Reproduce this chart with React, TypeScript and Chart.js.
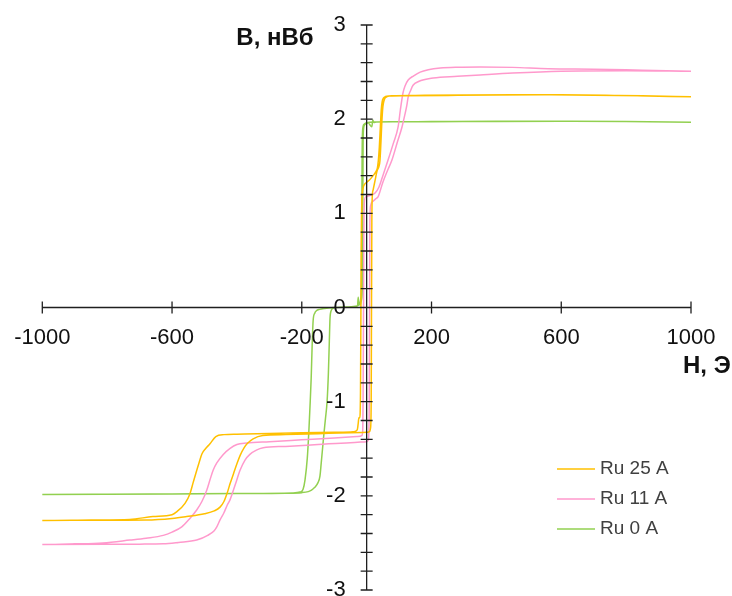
import React, { useEffect, useRef } from 'react';
import { Chart, registerables } from 'chart.js';

Chart.register(...registerables);

// ---------- data ----------
const seriesLabels = ['Ru 25 A', 'Ru 11 A', 'Ru 0 A'];
const seriesColors = ['#FFC000', '#FF99CC', '#92D050'];

// Ru 25 A : descending branch then ascending branch
const ru25H = [
  1000, 850, 700, 560, 400, 250, 120, 70, 58, 52, 48, 45, 42, 39, 36, 33, 28, 20, 10, 0, -6, -11, -15, -17, -18, -19, -20, -21, -24, -26, -29, -40, -100, -200, -300, -400, -440, -465, -483, -497, -508, -516, -524, -535, -545, -560, -586, -600, -659, -730, -850, -1000,
  -1000, -850, -680, -600, -555, -500, -470, -452, -440, -430, -421, -410, -400, -390, -378, -368, -350, -320, -250, -150, -50, 0, 8, 12, 14, 15, 16, 17, 20, 26, 32, 38, 41, 44, 47, 50, 53, 57, 63, 80, 150, 300, 450, 600, 800, 1000,
];
const ru25B = [
  2.237, 2.248, 2.255, 2.258, 2.256, 2.252, 2.248, 2.245, 2.24, 2.225, 2.19, 2.1, 1.9, 1.7, 1.56, 1.48, 1.44, 1.4, 1.36, 1.33, 1.31, 1.27, 1.1, 0.5, -0.3, -0.9, -1.12, -1.17, -1.17, -1.23, -1.3, -1.32, -1.325, -1.33, -1.337, -1.345, -1.35, -1.37, -1.447, -1.5, -1.555, -1.64, -1.73, -1.86, -1.98, -2.08, -2.17, -2.2, -2.22, -2.25, -2.256, -2.261,
  -2.261, -2.26, -2.257, -2.24, -2.22, -2.19, -2.16, -2.12, -2.06, -1.97, -1.87, -1.76, -1.66, -1.57, -1.49, -1.445, -1.395, -1.36, -1.35, -1.34, -1.33, -1.325, -1.32, -1.28, -1.0, 0, 0.9, 1.15, 1.25, 1.35, 1.45, 1.5, 1.56, 1.75, 1.98, 2.13, 2.19, 2.225, 2.24, 2.248, 2.252, 2.256, 2.258, 2.258, 2.25, 2.237,
];

// Ru 11 A
const ru11H = [
  1000, 850, 700, 560, 450, 350, 280, 227, 190, 165, 145, 128, 118, 112, 104, 97, 82, 66, 50, 38, 26, 15, 5, -3, -7, -9, -10, -11, -12, -15, -30, -100, -200, -300, -370, -400, -421, -442, -462, -473, -483, -493, -508, -524, -545, -570, -600, -627, -680, -730, -813, -900, -1000,
  -1000, -800, -700, -627, -580, -524, -490, -470, -462, -452, -440, -430, -421, -405, -390, -375, -360, -340, -319, -250, -150, -50, 0, 5, 7, 8, 9, 10, 12, 20, 30, 35, 50, 65, 78, 95, 109, 118, 124, 128, 135, 143, 160, 205, 280, 350, 450, 600, 800, 1000,
];
const ru11B = [
  2.51, 2.52, 2.53, 2.535, 2.55, 2.555, 2.552, 2.543, 2.525, 2.5, 2.46, 2.416, 2.35, 2.278, 2.1, 1.917, 1.74, 1.566, 1.4, 1.28, 1.216, 1.195, 1.185, 1.175, 1.12, 0.6, -0.3, -1.0, -1.3, -1.36, -1.37, -1.385, -1.405, -1.425, -1.44, -1.455, -1.495, -1.56, -1.65, -1.726, -1.83, -1.94, -2.06, -2.15, -2.24, -2.33, -2.385, -2.42, -2.45, -2.47, -2.5, -2.51, -2.516,
  -2.516, -2.515, -2.513, -2.51, -2.495, -2.47, -2.42, -2.37, -2.33, -2.256, -2.18, -2.1, -2.04, -1.88, -1.726, -1.62, -1.56, -1.515, -1.49, -1.475, -1.455, -1.435, -1.425, -1.41, -1.3, -1.0, 0, 0.9, 1.08, 1.13, 1.16, 1.174, 1.33, 1.46, 1.566, 1.76, 1.917, 2.05, 2.15, 2.235, 2.3, 2.36, 2.4, 2.437, 2.455, 2.47, 2.49, 2.51, 2.515, 2.508,
];

// Ru 0 A
const ru0H = [
  1000, 800, 600, 400, 200, 80, 30, 10, 0, -8, -12, -14, -15, -16, -18, -22, -30, -60, -100, -130, -145, -155, -160, -165, -168, -171, -174, -178, -183, -190, -196, -205, -230, -400, -600, -800, -1000,
  -1000, -800, -600, -400, -250, -200, -180, -170, -160, -150, -144, -140, -132, -127, -122, -118, -115, -113, -110, -104, -90, -60, -35, -28, -26, -24, -20, -16, -13, -12, -11, -10, -6, 0, 5, 12, 16, 19, 22, 30, 80, 200, 400, 600, 800, 1000,
];
const ru0B = [
  1.968, 1.975, 1.977, 1.976, 1.973, 1.972, 1.97, 1.968, 1.962, 1.945, 1.9, 1.6, 0.9, 0.3, 0.1, 0.04, 0.015, 0.005, 0, -0.01, -0.02, -0.035, -0.06, -0.14, -0.4, -0.75, -1.0, -1.3, -1.6, -1.83, -1.93, -1.96, -1.97, -1.976, -1.98, -1.984, -1.985,
  -1.985, -1.983, -1.98, -1.976, -1.972, -1.966, -1.955, -1.94, -1.91, -1.86, -1.79, -1.65, -1.35, -1.18, -1.0, -0.7, -0.35, -0.12, -0.04, -0.01, 0, 0.005, 0.01, 0.02, 0.11, 0.03, 0.03, 0.08, 0.25, 1.0, 1.7, 1.88, 1.94, 1.955, 1.96, 1.93, 1.92, 1.99, 1.965, 1.97, 1.972, 1.974, 1.977, 1.977, 1.975, 1.968,
];

const seriesH = [ru25H, ru11H, ru0H];
const seriesB = [ru25B, ru11B, ru0B];

// axes
const xMin = -1000;
const xMax = 1000;
const yMin = -3;
const yMax = 3;
const xTickValues = [-1000, -600, -200, 200, 600, 1000];
const yLabelValues = [-3, -2, -1, 0, 1, 2, 3];
const yMinorStep = 0.2;
const xTitle = 'H, Э';
const yTitle = 'B, нВб';

const FONT = '"Liberation Sans", Arial, sans-serif';

const crossAxesPlugin = {
  id: 'crossAxes',
  afterDatasetsDraw(chart: any) {
    const { ctx } = chart;
    const xs = chart.scales.x;
    const ys = chart.scales.y;
    const x0 = xs.getPixelForValue(0);
    const y0 = ys.getPixelForValue(0);
    ctx.save();
    ctx.strokeStyle = '#1f1f1f';
    ctx.lineWidth = 1.3;
    ctx.beginPath();
    ctx.moveTo(xs.getPixelForValue(xMin), y0);
    ctx.lineTo(xs.getPixelForValue(xMax), y0);
    ctx.moveTo(x0, ys.getPixelForValue(yMin));
    ctx.lineTo(x0, ys.getPixelForValue(yMax));
    xTickValues.forEach((v) => {
      const px = xs.getPixelForValue(v);
      ctx.moveTo(px, y0 - 6);
      ctx.lineTo(px, y0 + 6);
    });
    const nMinor = Math.round((yMax - yMin) / yMinorStep);
    for (let i = 0; i <= nMinor; i++) {
      const py = ys.getPixelForValue(yMin + i * yMinorStep);
      ctx.moveTo(x0 - 6, py);
      ctx.lineTo(x0 + 6, py);
    }
    ctx.stroke();

    ctx.fillStyle = '#111111';
    ctx.font = `22px ${FONT}`;
    ctx.textAlign = 'center';
    ctx.textBaseline = 'middle';
    xTickValues.forEach((v) => {
      ctx.fillText(String(v), xs.getPixelForValue(v), y0 + 30);
    });
    ctx.textAlign = 'right';
    yLabelValues.forEach((v) => {
      ctx.fillText(String(v), x0 - 21, ys.getPixelForValue(v));
    });

    ctx.font = `bold 24px ${FONT}`;
    ctx.textAlign = 'right';
    ctx.fillText(yTitle, x0 - 53, ys.getPixelForValue(yMax) + 13);
    ctx.textAlign = 'left';
    ctx.fillText(xTitle, xs.getPixelForValue(xMax) - 8, y0 + 59);

    // legend
    ctx.font = `19px ${FONT}`;
    ctx.fillStyle = '#404040';
    chart.data.datasets.forEach((ds: any, i: number) => {
      const ly = 469 + i * 30;
      ctx.strokeStyle = ds.borderColor;
      ctx.lineWidth = 1.5;
      ctx.beginPath();
      ctx.moveTo(557, ly);
      ctx.lineTo(595, ly);
      ctx.stroke();
      ctx.textAlign = 'left';
      ctx.fillText(ds.label, 600, ly);
    });
    ctx.restore();
  },
};

export default function App() {
  const canvasRef = useRef<HTMLCanvasElement | null>(null);

  useEffect(() => {
    const canvas = canvasRef.current;
    if (!canvas) return;
    const chart = new Chart(canvas, {
      type: 'scatter',
      data: {
        datasets: seriesLabels.map((label, i) => ({
          label,
          data: seriesH[i].map((h, j) => ({ x: h, y: seriesB[i][j] })),
          borderColor: seriesColors[i],
          backgroundColor: seriesColors[i],
          borderWidth: 1.5,
          showLine: true,
          pointRadius: 0,
          pointHoverRadius: 0,
          cubicInterpolationMode: 'monotone' as const,
          fill: false,
          clip: false as any,
        })),
      },
      options: {
        responsive: false,
        animation: false,
        devicePixelRatio: 1,
        layout: { padding: { left: 42.3, right: 41, top: 25, bottom: 6 } },
        scales: {
          x: { type: 'linear', min: xMin, max: xMax, display: false },
          y: { type: 'linear', min: yMin, max: yMax, display: false },
        },
        plugins: {
          legend: { display: false },
          tooltip: { enabled: false },
        },
        events: [],
      },
      plugins: [crossAxesPlugin],
    });
    return () => chart.destroy();
  }, []);

  return (
    <div style={{ position: 'fixed', left: 0, top: 0, width: 732, height: 596, background: '#ffffff' }}>
      <canvas ref={canvasRef} width={732} height={596} style={{ display: 'block', width: 732, height: 596 }} />
    </div>
  );
}
